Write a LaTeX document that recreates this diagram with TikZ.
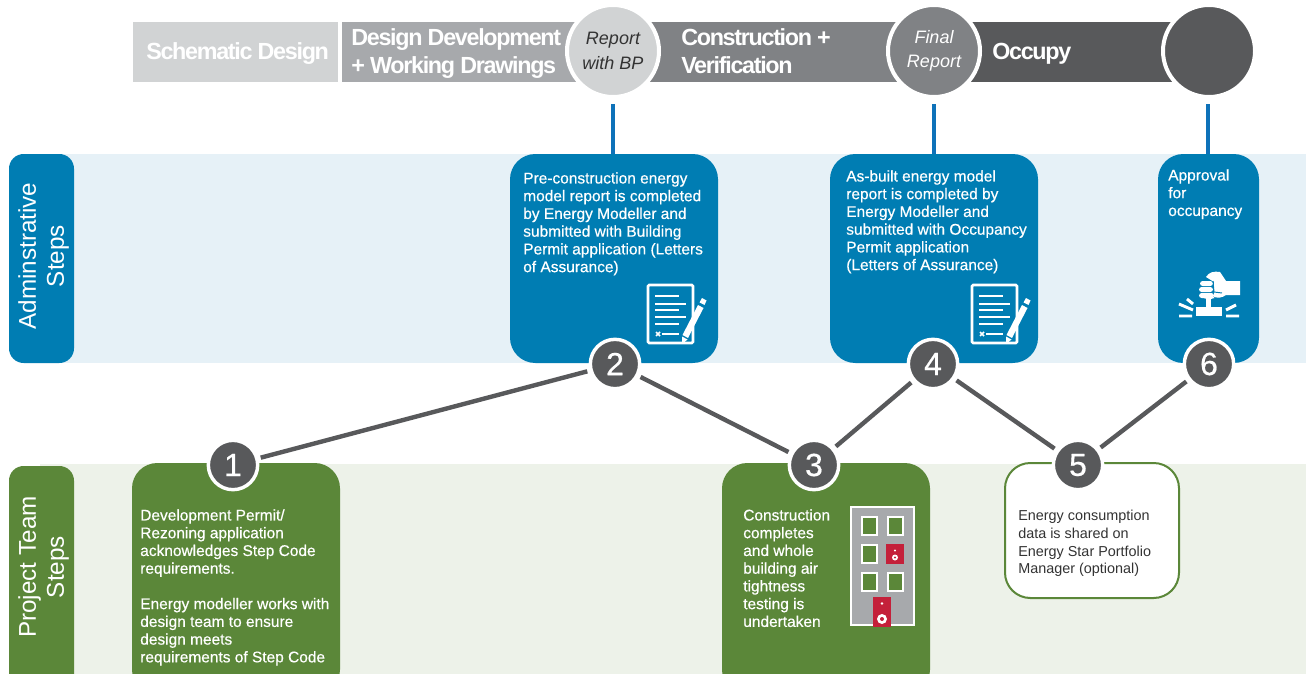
\documentclass[tikz,border=0pt]{standalone}
\usepackage{fontspec}
\setmainfont{Liberation Sans}
\newfontfamily\medf[FakeBold=0.5]{Liberation Sans}
\newfontfamily\titlef[LetterSpace=-5.6]{Liberation Sans}
\usetikzlibrary{calc}
\definecolor{bandblue}{HTML}{E6F1F7}
\definecolor{bandgreen}{HTML}{EDF2E9}
\definecolor{adminblue}{HTML}{007DB3}
\definecolor{linkblue}{HTML}{0E72B9}
\definecolor{teamgreen}{HTML}{5B8739}
\definecolor{phaseA}{HTML}{D1D3D4}
\definecolor{phaseB}{HTML}{A7A9AC}
\definecolor{phaseC}{HTML}{808285}
\definecolor{phaseD}{HTML}{58595B}
\definecolor{doorred}{HTML}{C4203A}
\tikzset{
  x=0.75pt,y=-0.75pt,
  phasebar/.style={fill=#1,draw=none},
  phasedot/.style={circle,fill=#1,draw=white,line width=3pt,minimum size=69pt,inner sep=0pt,font=\fontsize{13.5}{18.5}\selectfont\itshape,align=center},
  phasetitle/.style={text=white,font=\titlef\fontsize{17.5}{21}\bfseries\selectfont,anchor=west,align=left,inner sep=0pt},
  sidelabel/.style={text=white,align=center,font=\fontsize{18.2}{21}\selectfont,rotate=90,inner sep=0pt},
  adminbox/.style={fill=adminblue,draw=none,rounded corners=19pt},
  teambox/.style={fill=teamgreen,draw=none,rounded corners=19pt},
  boxtext/.style={text=white,anchor=north west,align=left,inner sep=0pt,font=\medf\fontsize{11.6}{13.3}\selectfont},
  numdot/.style={circle,fill=phaseD,draw=white,line width=2.6pt,minimum size=37pt,inner sep=0pt,outer sep=3pt,text=white,font=\medf\fontsize{24}{26}\selectfont},
  link/.style={draw=phaseD,line width=3.3pt},
  uplink/.style={draw=linkblue,line width=3pt},
  pics/docicon/.style={code={
    \draw[white,line width=2pt,rounded corners=1pt,fill=adminblue] (0,0) rectangle (45,58);
    \foreach \yy/\xx in {11/31,19/38,25/31,32/38,39/31}{\draw[white,line width=1.6pt] (7,\yy) -- (\xx,\yy);}
    \draw[white,line width=1.4pt] (14,49) -- (31,49);
    \draw[white,line width=1.1pt] (8,47) -- (12,51) (12,47) -- (8,51);
    \fill[white] (50,20) -- (55.5,23) -- (40,53) -- (34.5,50) -- cycle;
    \fill[white] (34,51.5) -- (39.5,54.5) -- (34,59) -- cycle;
    \fill[white] (51.5,17.5) -- (54,13) -- (58.5,15.5) -- (56.5,20) -- cycle;
  }},
  pics/smallwin/.style={code={\draw[white,line width=2.2pt,fill=teamgreen] (0,0) rectangle (15,18);}},
}
\begin{document}
\begin{tikzpicture}
\useasboundingbox (0,0) rectangle (1306,674);
\clip (0,0) rectangle (1306,674);
\fill[white] (0,0) rectangle (1306,674);
% bands
\fill[bandblue] (40,154) rectangle (1306,363);
\fill[bandgreen] (40,464) rectangle (1306,674);
\path[fill=adminblue,rounded corners=11pt] (9,154) rectangle (74,363);
\path[fill=teamgreen,rounded corners=11pt] (9,466) rectangle (74,690);
\node[sidelabel] (adminlabel) at (43.5,256) {Adminstrative\\Steps};
\node[sidelabel] (teamlabel) at (43.5,567) {Project Team\\Steps};
% phases
\fill[phasebar=phaseA] (133,22) rectangle (338,82);
\fill[phasebar=phaseB] (342,22) rectangle (590,82);
\fill[phasebar=phaseC] (640,22) rectangle (910,82);
\fill[phasebar=phaseD] (960,22) rectangle (1190,82);
\node[phasedot=phaseA,text=black!80] (p1) at (613,51) {Report\\with BP};
\node[phasedot=phaseC,text=white] (p2) at (934,51) {Final\\Report};
\node[phasedot=phaseD] (p3) at (1209,51) {};
\node[phasetitle] (t1) at (146,54) {Schematic Design};
\node[phasetitle] (t2) at (351,54) {Design Development\\+ Working Drawings};
\node[phasetitle] (t3) at (681,51) {Construction +\\Verification};
\node[phasetitle] (t4) at (992,54) {Occupy};
% boxes
\path[adminbox] (510,154) rectangle (718,363);
\path[adminbox] (830,154) rectangle (1038,363);
\path[adminbox] (1158,154) rectangle (1259,363);
\path[teambox] (132,463) rectangle (340,695);
\path[teambox] (722,463) rectangle (930,695);
\path[draw=teamgreen,fill=white,line width=1.5pt,rounded corners=19pt] (1005,463) rectangle (1179,598);
\coordinate (b2top) at (613,154);
\coordinate (b4top) at (934,154);
\coordinate (b6top) at (1208,154);
\coordinate (p1low) at (613,104);
\coordinate (p2low) at (934,104);
\coordinate (p3low) at (1208,104);
\draw[uplink] (p1low) -- (b2top);
\draw[uplink] (p2low) -- (b4top);
\draw[uplink] (p3low) -- (b6top);
% numbered dots
\node[numdot] (n1) at (233,465) {1};
\node[numdot] (n2) at (615,364) {2};
\node[numdot] (n3) at (814,465) {3};
\node[numdot] (n4) at (933,364) {4};
\node[numdot] (n5) at (1078,465) {5};
\node[numdot] (n6) at (1209,364) {6};
\draw[link] (n1) -- (n2);
\draw[link] (n2) -- (n3);
\draw[link] (n3) -- (n4);
\draw[link] (n4) -- (n5);
\draw[link] (n5) -- (n6);
% texts
\node[boxtext] (x2) at (523,172) {Pre-construction energy\\model report is completed\\by Energy Modeller and\\submitted with Building\\Permit application (Letters\\of Assurance)};
\node[boxtext] (x4) at (846,170) {As-built energy model\\report is completed by\\Energy Modeller and\\submitted with Occupancy\\Permit application\\(Letters of Assurance)};
\node[boxtext] (x6) at (1168,169) {Approval\\for\\occupancy};
\node[boxtext] (x1) at (140,509) {Development Permit/\\Rezoning application\\acknowledges Step Code\\requirements.\\[13.3pt]Energy modeller works with\\design team to ensure\\design meets\\requirements of Step Code};
\node[boxtext] (x3) at (743,509) {Construction\\completes\\and whole\\building air\\tightness\\testing is\\undertaken};
\node[boxtext,text=black!80,font=\fontsize{10.8}{13.3}\selectfont] (x5) at (1018,510) {Energy consumption\\data is shared on\\Energy Star Portfolio\\Manager (optional)};
% icons
\pic at (648,285) {docicon};
\pic at (972,285) {docicon};
% stamp
\fill[white] (1196,307) rectangle (1222,316);
\fill[white] (1206,298) rectangle (1211,307);
\fill[white,rounded corners=2pt] (1200,281) rectangle (1213,286);
\fill[white,rounded corners=2pt] (1199,287) rectangle (1213,292);
\fill[white,rounded corners=2pt] (1199,293) rectangle (1214,298);
\fill[white,rounded corners=2pt] (1204,296) rectangle (1214,299);
\fill[white] (1206,277) .. controls (1209,272) and (1214,271) .. (1220,272) -- (1226,281) -- (1240,281) -- (1240,295) -- (1226,295) .. controls (1222,298) and (1218,298) .. (1214,297) -- (1214,282) -- cycle;
\draw[adminblue,line width=0.7pt] (1213,281) -- (1214,292) -- (1222,293);
\draw[white,line width=2.2pt] (1179,316) -- (1192,316) (1179,304) -- (1193,310) (1187,299) -- (1193,304);
\draw[white,line width=2.2pt] (1226,316) -- (1239,316) (1226,310) -- (1236,305);
% building
\draw[white,line width=1.5pt,fill=phaseB] (851,507) rectangle (914,625);
\pic at (862,517) {smallwin};
\pic at (888,517) {smallwin};
\pic at (862,545) {smallwin};
\pic at (862,573) {smallwin};
\pic at (888,573) {smallwin};
\fill[doorred] (886,544) rectangle (904,564);
\fill[doorred] (873,597) rectangle (891,627);
\fill[white] (895,550.5) circle (1.2);
\fill[white] (895,557.5) circle (3);
\fill[doorred] (895,557.5) circle (1.2);
\fill[white] (882,603.5) circle (1.3);
\fill[white] (882,619) circle (5);
\fill[doorred] (882,619) circle (2);
\end{tikzpicture}
\end{document}
